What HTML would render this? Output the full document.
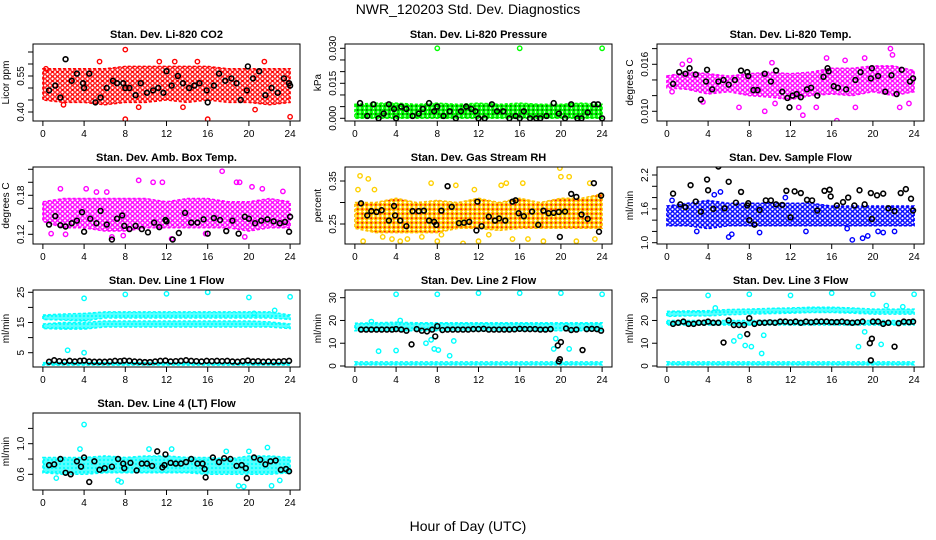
<!DOCTYPE html>
<html><head><meta charset="utf-8"><style>
html,body{margin:0;padding:0;background:#fff;}
svg{display:block;font-family:"Liberation Sans",sans-serif;}
</style></head><body>
<svg id="chart" width="936" height="540" viewBox="0 0 936 540" xmlns="http://www.w3.org/2000/svg">
<defs>
<pattern id="pat-red" width="5" height="4.5" patternUnits="userSpaceOnUse"><rect width="5" height="4.5" fill="#fff"/><circle cx="2.5" cy="2.25" r="1.8" fill="none" stroke="#ff0000" stroke-width="1.2"/></pattern>
<pattern id="pat-green" width="4.5" height="4" patternUnits="userSpaceOnUse"><rect width="4.5" height="4" fill="#fff"/><circle cx="2.25" cy="2" r="1.7" fill="#007000" stroke="#00ff00" stroke-width="1.3"/></pattern>
<pattern id="pat-magenta" width="5" height="4.5" patternUnits="userSpaceOnUse"><rect width="5" height="4.5" fill="#fff"/><circle cx="2.5" cy="2.25" r="1.8" fill="none" stroke="#ff00ff" stroke-width="1.3"/></pattern>
<pattern id="pat-orange" width="4.5" height="4.5" patternUnits="userSpaceOnUse"><rect width="4.5" height="4.5" fill="#fff"/><circle cx="2.25" cy="2.25" r="1.7" fill="#ff2000" stroke="#ffd000" stroke-width="1.2"/></pattern>
<pattern id="pat-blue" width="5" height="4.5" patternUnits="userSpaceOnUse"><rect width="5" height="4.5" fill="#fff"/><circle cx="2.5" cy="2.25" r="1.8" fill="none" stroke="#0000ff" stroke-width="1.3"/></pattern>
<pattern id="pat-cyan" width="4" height="4" patternUnits="userSpaceOnUse"><rect width="4" height="4" fill="#00ffff"/><circle cx="2" cy="2" r="1.2" fill="none" stroke="#a0ffff" stroke-width="0.8"/></pattern>
</defs>
<text x="468" y="14" font-size="14" text-anchor="middle">NWR_120203  Std. Dev. Diagnostics</text>
<text x="468" y="531" font-size="14" text-anchor="middle">Hour of Day (UTC)</text>
</svg>
<script>
// band times (every 2 hours)
const bandT = [0,2,4,6,8,10,12,14,16,18,20,22,24];
const xTicks = [0,4,8,12,16,20,24];

// P1 CO2
const co2Lo = [.45,.44,.44,.43,.44,.44,.45,.44,.45,.44,.44,.43,.44];
const co2Hi = [.58,.58,.58,.58,.59,.59,.59,.59,.59,.58,.58,.58,.58];
const co2OutT = [8,8,16,24,5.5,11.3,21.5,20.6,15,12.8,0.3,2,9.3,13.6];
const co2OutV = [.66,.37,.37,.38,.61,.61,.61,.41,.61,.61,.58,.43,.42,.42];
const co2BlkT = [.6,1.2,1.7,2.2,2.8,3.3,3.9,4,4.5,5.1,5.6,6.2,6.8,7.2,7.8,8,8.4,9,9.5,10.1,10.7,11.2,11.7,12,12.5,13.1,13.6,14.2,14.7,15.2,15.9,16,16.6,17.1,17.7,18.3,18.8,19.2,19.8,19.9,20.4,21,21.6,22.2,22.8,23.4,23.9,24];
const co2BlkV = [.49,.51,.46,.62,.53,.56,.52,.50,.56,.44,.46,.50,.53,.52,.52,.50,.50,.47,.52,.48,.49,.50,.48,.57,.51,.55,.52,.50,.51,.52,.49,.44,.51,.56,.53,.54,.52,.45,.49,.59,.54,.57,.47,.50,.48,.54,.52,.51];

// P2 Pressure
const prLo = [0,0,0,0,0,0,0,0,0,0,0,0,0];
const prHi = [.006,.0065,.0065,.006,.0065,.006,.0065,.006,.0065,.006,.006,.0065,.006];
const prOutT = [8,16,24];
const prOutV = [.030,.030,.030];
const prBlkT = [.5,1.2,1.8,2.3,2.8,3.3,3.8,4,4.5,5,5.6,6.2,6.6,7.2,7.7,8,8.6,9.2,9.8,10.3,10.8,11.3,11.7,12,12.6,13.3,13.8,14.4,15,15.6,16,16.4,17,17.6,18,18.6,19.3,19.8,20.4,21,21.6,22,22.6,23.2,23.6,24];
const prBlkV = [.0065,.001,.006,0,.002,.006,.004,0,.005,.004,.001,.002,.004,.0065,.003,.005,.001,.003,0,.003,.005,.004,.003,0,0,.006,.003,.003,0,.001,0,.003,0,0,0,.001,.0065,.002,0,.006,0,0,.0025,.006,.006,0];

// P3 Li-820 temp
const tmLo = [.0130,.0128,.0122,.0125,.0120,.0118,.0115,.0120,.0122,.0120,.0125,.0120,.0125];
const tmHi = [.0145,.0150,.0148,.0145,.0148,.0150,.0148,.0150,.0155,.0155,.0158,.0158,.0152];
const tmOutT = [1.5,2.2,7,9.5,10.2,12.8,13.2,14.5,16.5,17.3,18.3,19.2,21.7,21.9,22.6,23.5,0.5,3.5,10.5,15.5];
const tmOutV = [.0160,.0165,.0105,.0100,.0162,.0105,.0095,.0105,.0088,.0165,.0105,.0168,.0180,.0172,.0105,.0110,.0125,.0112,.0110,.0168];
const tmBlkT = [.6,1.2,1.8,2.2,2.8,3.3,3.8,3.9,4.4,5,5.5,6,6.6,7.2,7.8,7.9,8.4,8.8,9.5,10.1,10.6,11.2,11.7,11.9,12.2,12.6,13,13.6,14,14.6,15.2,15.6,15.7,16.2,16.6,17.4,18.3,18.8,19.8,19.9,20.5,21.2,21.8,22.3,22.8,23.6,23.9];
const tmBlkV = [.0135,.0150,.0148,.0155,.0147,.0115,.0138,.0153,.0128,.0138,.0140,.0134,.0140,.0152,.0150,.0145,.0127,.0127,.0148,.0138,.0152,.0125,.0117,.0105,.0120,.0122,.0118,.0128,.0130,.0120,.0144,.0155,.0151,.0132,.0130,.0128,.0140,.0150,.0142,.0155,.0145,.0125,.0146,.0122,.0153,.0138,.0142];

// P4 Amb box temp
const abLo = [.14,.13,.13,.125,.125,.13,.13,.13,.13,.13,.125,.13,.13];
const abHi = [.17,.175,.175,.175,.175,.175,.17,.175,.175,.17,.17,.175,.17];
const abOutT = [1.7,4.2,5.2,6.2,9.3,10.7,11.6,17.4,18.8,19.1,20.3,21.3,23.3,2.2,6.7,12.5,15.8,19.6,0.8,7.8];
const abOutV = [.19,.19,.185,.185,.203,.20,.20,.217,.20,.20,.193,.19,.186,.12,.116,.113,.121,.116,.121,.118];
const abBlkT = [.6,1.2,1.7,2.2,2.8,3.3,3.8,4,4.6,5.2,5.6,6.2,6.7,7.2,7.7,7.9,8.4,9,9.6,10.2,10.8,11.3,11.9,12,12.6,13.2,13.8,14.4,15,15.6,16,16.6,17.2,17.8,18.4,19,19.6,20,20.6,21.2,21.8,22.4,23,23.5,23.9,24];
const abBlkV = [.135,.148,.134,.132,.137,.141,.154,.124,.144,.137,.156,.135,.112,.144,.149,.133,.128,.133,.128,.123,.138,.131,.142,.14,.112,.122,.153,.138,.138,.143,.121,.145,.142,.125,.141,.121,.147,.144,.137,.141,.143,.140,.137,.139,.124,.147];

// P5 Gas stream RH
const rhLo = [.24,.23,.23,.23,.23,.24,.24,.235,.24,.24,.24,.24,.24];
const rhHi = [.30,.30,.31,.30,.305,.30,.31,.30,.31,.30,.31,.31,.32];
const rhOutT = [.5,.8,1.3,2.7,3.6,4.4,5.1,6.5,7.4,8,8.4,9.8,10.5,11.6,12,13,14.2,14.7,15.3,16.3,16.8,18.3,19.9,20,20.8,21.5,22.8,23.3,0.3,1.9];
const rhOutV = [.362,.21,.355,.22,.215,.21,.215,.22,.345,.21,.225,.34,.205,.33,.21,.225,.34,.345,.215,.345,.215,.21,.38,.36,.36,.21,.345,.215,.33,.33];
const rhBlkT = [.6,1.2,1.6,2.1,2.6,3.3,3.8,3.9,4.4,5,5.6,6.2,6.7,7.2,7.7,7.9,8.4,9,9.4,10.1,10.6,11.1,11.8,11.9,12.3,13,13.6,14,14.6,15.3,15.6,15.9,16.4,17.2,17.8,18.3,18.8,19.3,19.8,19.9,20.4,21,21.5,22,22.6,23.2,23.7,23.9];
const rhBlkV = [.298,.270,.280,.278,.282,.258,.292,.270,.258,.245,.280,.280,.281,.258,.255,.248,.281,.338,.290,.252,.253,.255,.235,.302,.245,.267,.258,.263,.258,.302,.305,.275,.268,.279,.248,.281,.275,.276,.278,.22,.279,.320,.313,.272,.262,.345,.232,.316];

// P6 Sample flow
const sfLo = [1.3,1.3,1.25,1.3,1.3,1.3,1.3,1.3,1.3,1.3,1.3,1.3,1.3];
const sfHi = [1.65,1.7,1.75,1.7,1.7,1.7,1.7,1.7,1.65,1.65,1.65,1.65,1.65];
const sfOutT = [2.9,6,6.3,9,13.5,17.5,18,19,19.5,20.5,21,22.1,4.6,5.2,0.5,11.5];
const sfOutV = [1.2,1.1,1.15,1.18,1.2,1.25,1.05,1.08,1.12,1.2,1.18,1.2,1.85,1.9,1.75,1.8];
const sfBlkT = [.6,1.3,1.8,2.3,2.8,3.3,3.9,4,4.5,5,5.6,6,6.7,7.2,7.8,7.9,8,8.5,9,9.6,10.1,10.6,11.2,11.6,12,12.4,13,13.6,14.1,14.6,15.3,15.8,15.9,16.5,17.1,17.6,18.2,18.7,19.2,19.8,19.9,20.4,21,21.5,22.1,22.7,23.2,23.7,23.9];
const sfBlkV = [1.87,1.68,1.63,2.02,1.73,1.55,2.12,1.93,1.60,2.35,1.61,2.08,1.71,1.90,1.66,1.70,1.40,1.32,1.58,1.75,1.75,1.68,1.67,1.92,1.45,1.91,1.88,1.76,1.75,1.57,1.92,1.94,1.82,1.66,1.72,1.80,1.66,1.93,1.68,1.88,1.42,1.84,1.87,1.61,1.56,1.88,1.95,1.78,1.57];

// P7 Line 1 flow
const l1UpLo = [16,15.8,15.5,16.5,16.5,16.5,16.5,16.5,16.5,16.5,16.5,16.5,16];
const l1UpHi = [17.5,17.8,18,18.5,18.5,18.5,18.5,18.5,18.5,18.5,18.5,18.5,17.5];
const l1MdLo = [13,12.8,12.8,13.5,13.5,13.5,13.5,13.5,13.5,13.5,13.5,13.5,13];
const l1MdHi = [14.5,15,15,15.5,15.5,15.5,15.5,15.5,15.5,15.5,15.5,15.2,14.5];
const l1LwLo = [.9,.9,.9,.9,.9,.9,.9,.9,.9,.9,.9,.9,.9];
const l1LwHi = [1.7,1.7,1.7,1.7,1.7,1.7,1.7,1.7,1.7,1.7,1.7,1.7,1.7];
const l1OutT = [4,8,12,16,20,24,2.4,4,22.5,20.5];
const l1OutV = [23,24.3,24.5,25,23.3,23.5,5.8,5,19,18];
const l1BlkT = [.6,1.1,1.6,2.1,2.6,3.1,3.6,4,4.5,5,5.5,6,6.5,7,7.5,7.9,8.4,8.9,9.4,9.9,10.4,10.9,11.4,11.9,12.4,12.9,13.4,13.9,14.4,14.9,15.4,15.9,16.4,16.9,17.4,17.9,18.4,18.9,19.4,19.9,20.4,20.9,21.4,21.9,22.4,22.9,23.4,23.9];
const l1BlkV = [2.0,2.5,2.2,2.0,2.3,2.1,2.3,2.4,2.1,2.0,2.0,2.0,2.1,2.3,2.2,2.4,2.3,2.1,2.0,1.9,1.9,2.1,2.3,2.4,2.1,2.2,2.3,2.5,2.3,2.2,2.1,2.3,2.2,2.3,2.2,2.3,2.1,2.0,2.2,2.4,2.1,2.2,2.0,2.1,2.0,2.1,2.2,2.3];

// P8 Line 2 flow
const l2UpLo = [15.5,15.5,15.5,15.5,15.5,15.5,15.5,15.5,15.5,15.5,15.5,15.5,15.5];
const l2UpHi = [18.8,19,19.2,19,19,19,19,19,19,19,19,19,19];
const l2LwLo = [.5,.5,.5,.5,.5,.5,.5,.5,.5,.5,.5,.5,.5];
const l2LwHi = [1.8,1.8,1.8,1.8,1.8,1.8,1.8,1.8,1.8,1.8,1.8,1.8,1.8];
const l2OutT = [4,8,12,16,20,24,2.3,4,4.4,6.9,7.4,7.7,8.1,9.2,9.6,19.3,19.5,20.8,1.6];
const l2OutV = [31.5,31.5,32,32,32,31.5,6.5,6.8,20,10,11.5,7.5,7,4.5,11,7.5,12,7.5,19.5];
const l2BlkT = [.6,1.1,1.6,2.1,2.6,3.1,3.6,4,4.5,5,5.5,6,6.5,7,7.5,7.8,8,8.5,9,9.5,10,10.5,11,11.5,12,12.5,13,13.5,14,14.5,15,15.5,16,16.5,17,17.5,18,18.5,19,19.7,19.8,19.9,20,20.5,21,21.5,22.1,22.5,23,23.5,23.9];
const l2BlkV = [16,16,16,16,16,16,16,16.2,16,15.5,9.5,16.2,15.5,15.2,16,13,17.5,15.8,16,16,16,16,16,16.2,16.2,16.3,16,16,16,16,16,16.1,16.3,16.2,16.2,16.2,16,16,16.2,9,2,3,10.5,16.5,15.8,16,7,16.2,16.3,16.2,15.5];

// P9 Line 3 flow
const l3UpLo = [21.8,22,22,22.5,22.8,23,23.2,23.5,23.5,23.2,22.8,22.8,22.8];
const l3UpHi = [24,24.2,24.3,24.8,25,25.3,25.5,25.8,25.8,25.5,25,25,25];
const l3MdLo = [18,18,18,18,18,18,18,18,18,18,18,18,18];
const l3MdHi = [20,20,20,20,20,20,20,20,20,20,20,20,20];
const l3LwLo = [.5,.5,.5,.5,.5,.5,.5,.5,.5,.5,.5,.5,.5];
const l3LwHi = [1.8,1.8,1.8,1.8,1.8,1.8,1.8,1.8,1.8,1.8,1.8,1.8,1.8];
const l3OutT = [4,8,12,16,20,24,4.7,6.5,7.1,7.6,8.2,9.2,9.4,18.6,19.2,20.8,21.3,22.9];
const l3OutV = [31,31.5,31,32,31.5,31.5,25.5,11,13,9,8.5,5.5,13.5,8.5,15,9.5,26.5,26];
const l3BlkT = [.6,1.1,1.6,2.1,2.6,3.1,3.6,4,4.5,5,5.5,6,6.5,7,7.5,7.8,8,8.5,9,9.5,10,10.5,11,11.5,12,12.5,13,13.5,14,14.5,15,15.5,16,16.5,17,17.5,18,18.5,19,19.7,19.8,19.9,20,20.5,21,21.5,22.1,22.5,23,23.5,23.9];
const l3BlkV = [18.5,19,19.5,18.5,18.5,19,19,19.5,19,19,10.3,20,18,18,18,14,21,18.5,19,19,19.2,19,19.5,19.5,19.2,19.5,19,19.5,19.2,19.5,19.5,19.5,19.3,19.3,19.5,19.2,19,19.2,19.5,10,2.5,12,19.5,19.5,18.5,19,8.5,18.8,19.5,19.3,19.5];

// P10 Line 4 flow
const l4Lo = [.62,.6,.6,.62,.62,.62,.62,.62,.6,.6,.6,.6,.62];
const l4Hi = [.82,.82,.82,.84,.82,.84,.84,.82,.82,.8,.84,.84,.82];
const l4OutT = [3.6,4,7.3,7.6,12,10.3,17.8,19,19.5,20,21.8,22.2,23,1.3,12.5];
const l4OutV = [.93,1.25,.52,.50,1.45,.93,.90,.45,.44,.90,.95,.45,.52,.55,.93];
const l4BlkT = [.6,1.1,1.7,2.2,2.7,3.3,3.7,4,4.5,5,5.5,6,6.7,7.3,7.8,7.9,8.5,9.1,9.6,10.1,10.6,11.1,11.6,11.8,11.9,12.4,12.9,13.4,13.9,14.4,15,15.5,15.7,15.8,16.5,17.1,17.6,18.2,18.8,19.3,19.7,19.8,20.5,21.1,21.6,22.1,22.6,23.1,23.6,23.9];
const l4BlkV = [.72,.73,.80,.62,.60,.77,.70,.82,.50,.77,.66,.68,.70,.80,.74,.68,.75,.65,.74,.74,.71,.90,.69,.72,.86,.75,.74,.74,.76,.80,.74,.74,.67,.56,.82,.76,.81,.80,.71,.72,.68,.55,.82,.79,.73,.77,.78,.66,.67,.64];

const NS = "http://www.w3.org/2000/svg";
const svg = document.getElementById('chart');
function mk(tag, attrs, parent) {
  const e = document.createElementNS(NS, tag);
  for (const k in attrs) e.setAttribute(k, attrs[k]);
  (parent || svg).appendChild(e);
  return e;
}

const panels = [
  {key:'co2',title:'Stan. Dev. Li-820 CO2',ylab:'Licor ppm',col:0,row:0,dom:[.3625,.6833],ticks:[.40,.45,.50,.55,.60,.65],labels:['0.40','','','0.55','',''],color:'#ff0000',pat:'pat-red',bands:[[co2Lo,co2Hi]],outT:co2OutT,outV:co2OutV,bT:co2BlkT,bV:co2BlkV},
  {key:'pressure',title:'Stan. Dev. Li-820 Pressure',ylab:'kPa',col:1,row:0,dom:[-.00116,.03184],ticks:[0,.005,.01,.015,.02,.025,.03],labels:['0.000','','','0.015','','','0.030'],color:'#00ff00',pat:'pat-green',bands:[[prLo,prHi]],outT:prOutT,outV:prOutV,bT:prBlkT,bV:prBlkV},
  {key:'li820-temp',title:'Stan. Dev. Li-820 Temp.',ylab:'degrees C',col:2,row:0,dom:[.00876,.01859],ticks:[.010,.012,.014,.016,.018],labels:['0.010','','','0.016',''],color:'#ff00ff',pat:'pat-magenta',bands:[[tmLo,tmHi]],outT:tmOutT,outV:tmOutV,bT:tmBlkT,bV:tmBlkV},
  {key:'amb-box-temp',title:'Stan. Dev. Amb. Box Temp.',ylab:'degrees C',col:0,row:1,dom:[.1051,.2235],ticks:[.12,.14,.16,.18,.20,.22],labels:['0.12','','','0.18','',''],color:'#ff00ff',pat:'pat-magenta',bands:[[abLo,abHi]],outT:abOutT,outV:abOutV,bT:abBlkT,bV:abBlkV},
  {key:'gas-rh',title:'Stan. Dev. Gas Stream RH',ylab:'percent',col:1,row:1,dom:[.2035,.3826],ticks:[.25,.30,.35],labels:['0.25','','0.35'],color:'#ffa000',pat:'pat-orange',bands:[[rhLo,rhHi]],outT:rhOutT,outV:rhOutV,bT:rhBlkT,bV:rhBlkV},
  {key:'sample-flow',title:'Stan. Dev. Sample Flow',ylab:'ml/min',col:2,row:1,dom:[.977,2.342],ticks:[1.0,1.2,1.4,1.6,1.8,2.0,2.2],labels:['1.0','','','1.6','','','2.2'],color:'#0000ff',pat:'pat-blue',bands:[[sfLo,sfHi]],outT:sfOutT,outV:sfOutV,bT:sfBlkT,bV:sfBlkV},
  {key:'line1-flow',title:'Stan. Dev. Line 1 Flow',ylab:'ml/min',col:0,row:2,dom:[.265,25.76],ticks:[5,10,15,20,25],labels:['5','','15','','25'],color:'#00ffff',pat:'pat-cyan',bands:[[l1UpLo,l1UpHi],[l1MdLo,l1MdHi],[l1LwLo,l1LwHi]],outT:l1OutT,outV:l1OutV,bT:l1BlkT,bV:l1BlkV},
  {key:'line2-flow',title:'Stan. Dev. Line 2 Flow',ylab:'ml/min',col:1,row:2,dom:[-.44,33.38],ticks:[0,10,20,30],labels:['0','10','20','30'],color:'#00ffff',pat:'pat-cyan',bands:[[l2UpLo,l2UpHi],[l2LwLo,l2LwHi]],outT:l2OutT,outV:l2OutV,bT:l2BlkT,bV:l2BlkV},
  {key:'line3-flow',title:'Stan. Dev. Line 3 Flow',ylab:'ml/min',col:2,row:2,dom:[-.44,33.38],ticks:[0,10,20,30],labels:['0','10','20','30'],color:'#00ffff',pat:'pat-cyan',bands:[[l3UpLo,l3UpHi],[l3MdLo,l3MdHi],[l3LwLo,l3LwHi]],outT:l3OutT,outV:l3OutV,bT:l3BlkT,bV:l3BlkV},
  {key:'line4-flow',title:'Stan. Dev. Line 4 (LT) Flow',ylab:'ml/min',col:0,row:3,dom:[.395,1.401],ticks:[.6,.8,1.0,1.2],labels:['0.6','','1.0',''],color:'#00ffff',pat:'pat-cyan',bands:[[l4Lo,l4Hi]],outT:l4OutT,outV:l4OutV,bT:l4BlkT,bV:l4BlkV}
];

panels.forEach(p => {
  const x0 = 33 + 312*p.col, x1 = 300 + 312*p.col;
  const y0 = 44 + 123*p.row, y1 = y0 + 77;
  const xs = t => x0 + (t + 0.96) / 25.92 * (x1 - x0);
  const ys = v => y1 - (v - p.dom[0]) / (p.dom[1] - p.dom[0]) * (y1 - y0);
  const g = mk('g', {});
  
  
  const clipId = 'clip-' + p.key;
  const cp = mk('clipPath', {id: clipId}, g);
  mk('rect', {x:x0, y:y0, width:x1-x0, height:y1-y0}, cp);
  const plot = mk('g', {'clip-path':'url(#'+clipId+')'}, g);
  const edge = p.color === '#ffa000' ? '#ffc000' : p.color;
  p.bands.forEach((b, bi) => {
    const lo = b[0], hi = b[1];
    let pts = [];
    for (let i = 0; i < bandT.length; i++) pts.push(xs(bandT[i]) + ',' + ys(hi[i]));
    for (let i = bandT.length - 1; i >= 0; i--) pts.push(xs(bandT[i]) + ',' + ys(lo[i]));
    const poly = mk('polygon', {points: pts.join(' '), fill: 'url(#' + p.pat + ')', stroke: edge, 'stroke-width': 1.5, 'stroke-dasharray': '3 2'}, plot);
    
    
  });
  const n1 = Math.min(p.outT.length, p.outV.length);
  for (let i = 0; i < n1; i++) {
    const c = mk('circle', {cx: xs(p.outT[i]), cy: ys(p.outV[i]), r: 2.2, fill: 'none', stroke: p.color === '#ffa000' ? '#ffd000' : p.color, 'stroke-width': 1.4}, plot);
    
    
  }
  const n2 = Math.min(p.bT.length, p.bV.length);
  for (let i = 0; i < n2; i++) {
    const c = mk('circle', {cx: xs(p.bT[i]), cy: ys(p.bV[i]), r: 2.4, fill: 'none', stroke: '#000', 'stroke-width': 1.6}, plot);
    
    
  }
  const box = mk('rect', {x:x0, y:y0, width:x1-x0, height:y1-y0, fill:'none', stroke:'#000', 'stroke-width':1}, g);
  
  
  xTicks.forEach(t => {
    mk('line', {x1: xs(t), x2: xs(t), y1: y1, y2: y1 + 5, stroke: '#000'}, g);
    const tx = mk('text', {x: xs(t), y: y1 + 16, 'font-size': 10, 'text-anchor': 'middle'}, g);
    tx.textContent = t;
    
    
  });
  p.ticks.forEach((v, i) => {
    mk('line', {x1: x0 - 5, x2: x0, y1: ys(v), y2: ys(v), stroke: '#000'}, g);
    if (p.labels[i]) {
      const yy = ys(v);
      const tx = mk('text', {x: x0 - 9, y: yy, 'font-size': 10, 'text-anchor': 'middle', transform: 'rotate(-90 ' + (x0 - 9) + ' ' + yy + ')'}, g);
      tx.textContent = p.labels[i];
      
      
    }
  });
  const yl = mk('text', {x: x0 - 24, y: (y0 + y1) / 2, 'font-size': 10, 'text-anchor': 'middle', transform: 'rotate(-90 ' + (x0 - 24) + ' ' + ((y0 + y1) / 2) + ')'}, g);
  yl.textContent = p.ylab;
  
  
  const ti = mk('text', {x: (x0 + x1) / 2, y: y0 - 6, 'font-size': 11, 'font-weight': 'bold', 'text-anchor': 'middle'}, g);
  ti.textContent = p.title;
  
  
});
</script>
</body></html>
